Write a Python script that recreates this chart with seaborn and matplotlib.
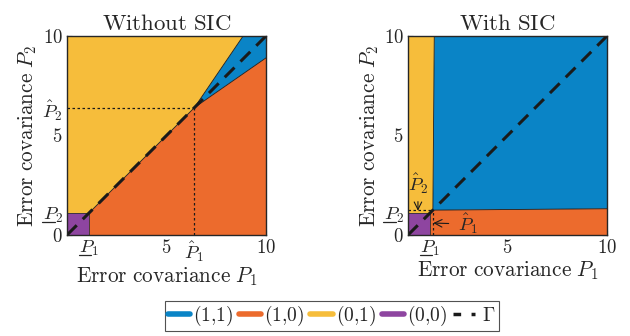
import numpy as np
import pandas as pd
import matplotlib
matplotlib.use("Agg")
import matplotlib.pyplot as plt
import seaborn as sns
from matplotlib.lines import Line2D

# ---- data ----
# Without SIC
p_low_a = 1.1          # underline P1 = underline P2
p_hat_a = 6.4          # hat P1 = hat P2
top_cross_a = 8.85     # yellow/blue boundary meets P2 = 10
right_cross_a = 8.9    # orange/blue boundary meets P1 = 10
# With SIC
p_low_b = 1.1
p_hat_b = 1.25
top_cross_b = 1.32     # yellow/blue boundary at P2 = 10
right_cross_b = 1.32   # orange/blue boundary at P1 = 10
pmax = 10

gamma_x = [0, 10]
gamma_y = [0, 10]

regions = ["(1,1)", "(1,0)", "(0,1)", "(0,0)"]
colors = {"(1,1)": "#0A84C6", "(1,0)": "#EC6B2D", "(0,1)": "#F6BD3B", "(0,0)": "#8E45A0"}

sns.set_theme(style="ticks")
plt.rcParams["mathtext.fontset"] = "cm"
plt.rcParams["font.family"] = ["DejaVu Serif", "DejaVu Sans"]

fig = plt.figure(figsize=(6.3, 3.36), dpi=100)
axA = fig.add_axes([67/630, 1-235/336, 199/630, 199/336])
axB = fig.add_axes([408/630, 1-235/336, 199/630, 199/336])

def polys(pl, ph, tc, rc):
    yellow = ([0, pl, ph, tc, 0], [pl, pl, ph, pmax, pmax])
    orange = ([pl, pmax, pmax, ph, pl], [0, 0, rc, ph, pl])
    blue = ([ph, tc, pmax, pmax], [ph, pmax, pmax, rc])
    purple = ([0, pl, pl, 0], [0, 0, pl, pl])
    return {"(1,1)": blue, "(1,0)": orange, "(0,1)": yellow, "(0,0)": purple}

fs_title, fs_lab, fs_tick, fs_leg = 16.5, 15.3, 13.5, 14
for ax, (pl, ph, tc, rc), title in [
    (axA, (p_low_a, p_hat_a, top_cross_a, right_cross_a), r"$\mathrm{Without\ SIC}$"),
    (axB, (p_low_b, p_hat_b, top_cross_b, right_cross_b), r"$\mathrm{With\ SIC}$"),
]:
    P = polys(pl, ph, tc, rc)
    for r in regions:
        xs, ys = P[r]
        ax.fill(xs, ys, color=colors[r], lw=0, zorder=1)
    # thin boundaries
    ax.plot([pl, ph, tc], [pl, ph, pmax], color="k", lw=0.6, zorder=2)
    ax.plot([ph, pmax], [ph, rc], color="k", lw=0.6, zorder=2)
    ax.plot([0, pl, pl], [pl, pl, 0], color="#333333", lw=0.6, zorder=2)
    # dotted hat lines
    ax.plot([0, ph], [ph, ph], color="k", lw=0.9, ls=(0, (2, 2)), zorder=3)
    ax.plot([ph, ph], [0, ph], color="k", lw=0.9, ls=(0, (2, 2)), zorder=3)
    # Gamma
    sns.lineplot(x=gamma_x, y=gamma_y, ax=ax, color="k", lw=2.2, zorder=4)
    ax.lines[-1].set_dashes((4.5, 2.8))
    ax.set_xlim(0, pmax)
    ax.set_ylim(0, pmax)
    ax.set_title(title, fontsize=fs_title, pad=4)
    ax.set_xlabel(r"$\mathrm{Error\ covariance}\ P_1$", fontsize=fs_lab, labelpad=1)
    ax.set_ylabel(r"$\mathrm{Error\ covariance}\ P_2$", fontsize=fs_lab, labelpad=2)
    ax.tick_params(direction="in", top=True, right=True, length=3.5, width=0.8,
                   labelsize=fs_tick, pad=3, color="#262626")
    for s in ax.spines.values():
        s.set_linewidth(1.0)
        s.set_color("#262626")
        s.set_zorder(6)

axA.set_xticks([p_low_a, 5, p_hat_a, 10])
axA.set_xticklabels([r"$P_1$", r"$5$", r"$\hat{P}_1$", r"$10$"])
axA.set_yticks([0, p_low_a, 5, p_hat_a, 10])
axA.set_yticklabels([r"$0$", r"$P_2$", r"$5$", r"$\hat{P}_2$", r"$10$"])

axB.set_xticks([p_low_b, 5, 10])
axB.set_xticklabels([r"$P_1$", r"$5$", r"$10$"])
axB.set_yticks([0, p_low_b, 5, 10])
axB.set_yticklabels([r"$0$", r"$P_2$", r"$5$", r"$10$"])

axB.annotate(r"$\hat{P}_2$", xy=(0.5, 1.22), xytext=(0.5, 2.6), fontsize=fs_tick,
             ha="center", va="center",
             arrowprops=dict(arrowstyle="->", color="k", lw=0.8, shrinkA=2, shrinkB=0))
axB.annotate(r"$\hat{P}_1$", xy=(1.27, 0.6), xytext=(3.0, 0.55), fontsize=fs_tick,
             ha="center", va="center",
             arrowprops=dict(arrowstyle="->", color="k", lw=0.8, shrinkA=4, shrinkB=0))

handles = [Line2D([0], [0], color=colors[r], lw=4) for r in regions]
handles.append(Line2D([0], [0], color="k", lw=2.5, dashes=(2.2, 3.0)))
labels = [r"$(1{,}1)$", r"$(1{,}0)$", r"$(0{,}1)$", r"$(0{,}0)$", r"$\;\Gamma$"]
leg = fig.legend(handles, labels, loc="center", bbox_to_anchor=(332/630, 1-316/336),
                 ncol=5, fontsize=fs_leg, frameon=True, fancybox=False, handlelength=1.15,
                 handletextpad=0.15, columnspacing=0.3, borderpad=0.15,
                 borderaxespad=0)
leg.get_frame().set_edgecolor("#262626")
leg.get_frame().set_linewidth(0.8)

# underline the "P" of the lower-bound tick labels
fig.canvas.draw()
renderer = fig.canvas.get_renderer()
targets = [axA.get_xticklabels()[0], axA.get_yticklabels()[1],
           axB.get_xticklabels()[0], axB.get_yticklabels()[1]]
for lab in targets:
    bb = lab.get_window_extent(renderer)
    y = bb.y0 + 0.16 * bb.height
    x0 = bb.x0 - 0.5
    x1 = bb.x0 + 0.62 * bb.width
    fig.add_artist(Line2D([x0, x1], [y, y], transform=None, color="#262626", lw=0.9))

fig.savefig("out.png", dpi=100)
